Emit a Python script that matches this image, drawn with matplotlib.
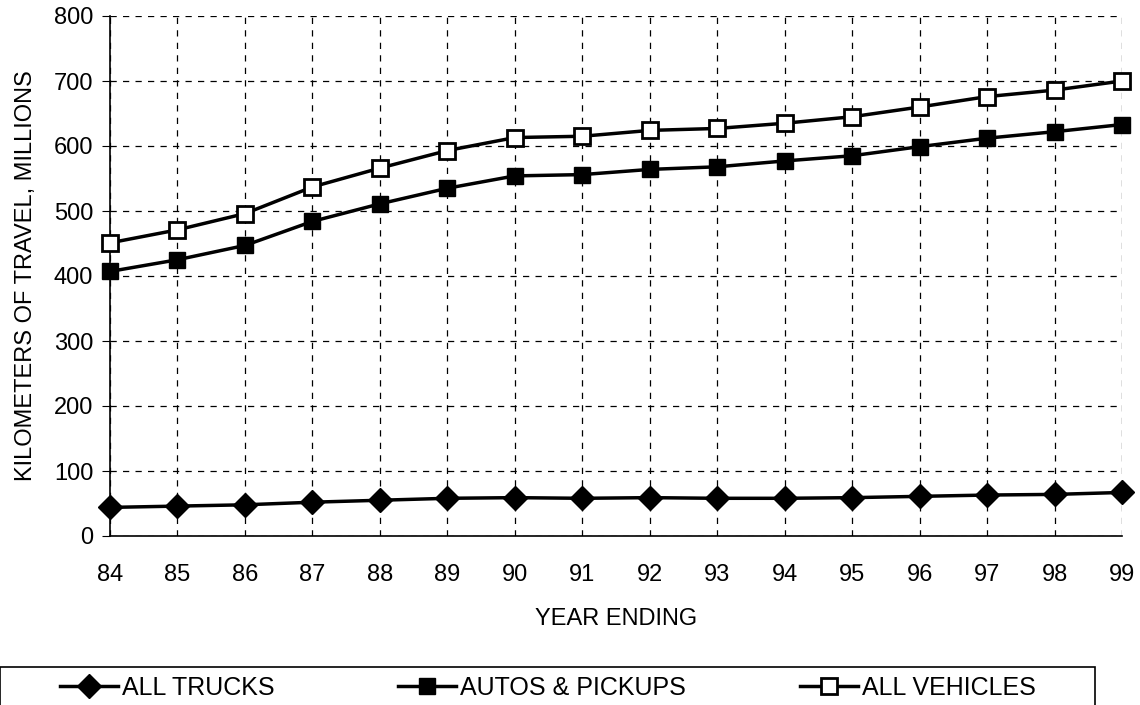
import matplotlib
matplotlib.use("Agg")
import matplotlib.pyplot as plt
from matplotlib.patches import Rectangle

plt.rcParams['font.family'] = ['Liberation Sans', 'DejaVu Sans']

# datos
years = [84, 85, 86, 87, 88, 89, 90, 91, 92, 93, 94, 95, 96, 97, 98, 99]
all_trucks = [44, 46, 48, 52, 55, 58, 59, 58, 59, 58, 58, 59, 61, 63, 64, 67]
autos_pickups = [407, 425, 447, 484, 511, 535, 554, 556, 564, 568, 577, 585, 599, 612, 622, 633]
all_vehicles = [451, 471, 496, 537, 566, 593, 613, 615, 624, 627, 635, 645, 660, 676, 686, 700]

fig = plt.figure(figsize=(11.4, 7.05), dpi=100)
ax = fig.add_axes([110 / 1140, 1 - 536 / 705, 1012 / 1140, 520 / 705])

l1, = ax.plot(years, all_trucks, color='black', lw=2.5, marker='D', ms=12,
              mfc='black', mec='black', label='ALL TRUCKS', clip_on=False, zorder=3)
l2, = ax.plot(years, autos_pickups, color='black', lw=2.5, marker='s', ms=12,
              mfc='black', mec='black', label='AUTOS & PICKUPS', clip_on=False, zorder=3)
l3, = ax.plot(years, all_vehicles, color='black', lw=2.5, marker='s', ms=12,
              mfc='white', mec='black', mew=2, label='ALL VEHICLES', clip_on=False, zorder=3)

ax.set_xlim(84, 99)
ax.set_ylim(0, 800)
ax.set_xticks(years)
ax.set_xticklabels([str(y) for y in years])
ax.set_yticks(range(0, 801, 100))

ax.grid(True, color='black', linestyle=(0, (5, 5)), linewidth=0.9)
ax.set_axisbelow(True)
for s in ['top', 'right']:
    ax.spines[s].set_visible(False)
ax.spines['left'].set_linewidth(1.2)
ax.spines['bottom'].set_linewidth(1.2)

ax.tick_params(axis='y', direction='out', length=6, labelsize=17, pad=6)
ax.tick_params(axis='x', direction='in', length=0, labelsize=17, pad=20)

ax.set_xlabel('YEAR ENDING', fontsize=17, labelpad=16)
ax.set_ylabel('KILOMETERS OF TRAVEL, MILLIONS', fontsize=17, labelpad=12)

# caja de la leyenda (cortada por abajo como en la figura original)
fig.patches.append(Rectangle((0.0, -0.1), 1095 / 1140, 0.1 + 38 / 705,
                             transform=fig.transFigure, fill=False,
                             edgecolor='black', linewidth=1.2))

# una leyenda por serie para colocarlas como en el original
for linea, xpos in [(l1, 60), (l2, 398), (l3, 800)]:
    fig.legend(handles=[linea], loc='center left',
               bbox_to_anchor=(xpos / 1140, 17 / 705), frameon=False,
               fontsize=18, handlelength=2.3, handletextpad=0.2,
               borderpad=0, borderaxespad=0)

fig.savefig('out.png', dpi=100)
